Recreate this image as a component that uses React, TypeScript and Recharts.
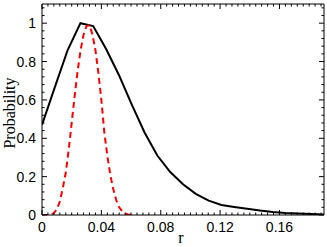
import { Line, LineChart, XAxis, YAxis } from 'recharts'

// sample positions (r) and probabilities
const solidR = [
  0, 0.0086, 0.0173, 0.0259, 0.0345, 0.0432, 0.0518, 0.0605, 0.0691, 0.0777, 0.0864, 0.095,
  0.1036, 0.1123, 0.1209, 0.1295, 0.1382, 0.1468, 0.1555, 0.1641, 0.1727, 0.1814, 0.19,
]
const solidP = [
  0.47, 0.665, 0.86, 1.0, 0.985, 0.865, 0.73, 0.575, 0.43, 0.31, 0.224, 0.16,
  0.11, 0.075, 0.052, 0.042, 0.032, 0.023, 0.016, 0.011, 0.008, 0.005, 0.003,
]

const dashedR = [
  0, 0.002, 0.004, 0.006, 0.008, 0.01, 0.012, 0.014, 0.016, 0.018, 0.02, 0.022, 0.024, 0.026,
  0.028, 0.03, 0.032, 0.034, 0.036, 0.038, 0.04, 0.042, 0.044, 0.046, 0.048, 0.05, 0.052,
  0.054, 0.056, 0.058, 0.06, 0.062,
]
const dashedP = [
  0, 0, 0, 0.002, 0.01, 0.03, 0.07, 0.14, 0.22, 0.34, 0.48, 0.62, 0.75, 0.86,
  0.94, 0.985, 0.99, 0.94, 0.86, 0.74, 0.6, 0.43, 0.31, 0.21, 0.135, 0.078, 0.04,
  0.02, 0.008, 0.003, 0.001, 0,
]

const xMajor = [0, 0.04, 0.08, 0.12, 0.16]
const xMinor = Array.from({ length: 48 }, (_, i) => i * 0.004)
const yMajor = [0, 0.2, 0.4, 0.6, 0.8, 1]
const yMinor = Array.from({ length: 28 }, (_, i) => i * 0.04)

const solidData = solidR.map((r, i) => ({ r, p: solidP[i] }))
const dashedData = dashedR.map((r, i) => ({ r, p: dashedP[i] }))

const isMajor = (v: number, majors: number[]) => majors.some((m) => Math.abs(m - v) < 1e-6)
const fmt = (v: number) => (v === 0 ? '0' : String(Math.round(v * 100) / 100))

const tickFont = { fontFamily: '"Liberation Sans", Arial, sans-serif', fontSize: 14, fill: '#000' }
const ink = '#000'

function BottomTick({ x, y, payload }: any) {
  const major = isMajor(payload.value, xMajor)
  return (
    <g>
      <line x1={x} x2={x} y1={y} y2={y - (major ? 5 : 2.5)} stroke={ink} />
      {major && (
        <text x={x} y={y + 17} textAnchor="middle" {...tickFont}>
          {fmt(payload.value)}
        </text>
      )}
    </g>
  )
}

function TopTick({ x, y, payload }: any) {
  const major = isMajor(payload.value, xMajor)
  return <line x1={x} x2={x} y1={y} y2={y + (major ? 5 : 2.5)} stroke={ink} />
}

function LeftTick({ x, y, payload }: any) {
  const major = isMajor(payload.value, yMajor)
  return (
    <g>
      <line x1={x} x2={x + (major ? 5 : 2.5)} y1={y} y2={y} stroke={ink} />
      {major && (
        <text x={x - 6} y={y} dy="0.36em" textAnchor="end" {...tickFont}>
          {fmt(payload.value)}
        </text>
      )}
    </g>
  )
}

function RightTick({ x, y, payload }: any) {
  const major = isMajor(payload.value, yMajor)
  return <line x1={x} x2={x - (major ? 5 : 2.5)} y1={y} y2={y} stroke={ink} />
}

const serif = { fontFamily: '"Liberation Serif", "Times New Roman", serif', fontSize: 16, fill: '#000' }

export default function App() {
  return (
    <div style={{ position: 'absolute', left: 0, top: 0, width: 327, height: 247, background: '#fff' }}>
      <LineChart width={327} height={247} margin={{ top: 2, right: 1, bottom: 0, left: 0 }}>
        <XAxis
          type="number"
          dataKey="r"
          domain={[0, 0.19]}
          ticks={xMinor}
          interval={0}
          allowDataOverflow
          height={32}
          tickSize={0}
          tickMargin={0}
          tickLine={false}
          axisLine={{ stroke: ink }}
          tick={BottomTick}
        />
        <XAxis
          xAxisId="top"
          orientation="top"
          type="number"
          dataKey="r"
          domain={[0, 0.19]}
          ticks={xMinor}
          interval={0}
          allowDataOverflow
          height={2}
          tickSize={0}
          tickMargin={0}
          tickLine={false}
          axisLine={{ stroke: ink }}
          tick={TopTick}
        />
        <YAxis
          type="number"
          domain={[0, 1.1]}
          ticks={yMinor}
          interval={0}
          allowDataOverflow
          width={42}
          tickSize={0}
          tickMargin={0}
          tickLine={false}
          axisLine={{ stroke: ink }}
          tick={LeftTick}
        />
        <YAxis
          yAxisId="right"
          orientation="right"
          type="number"
          domain={[0, 1.1]}
          ticks={yMinor}
          interval={0}
          allowDataOverflow
          width={2}
          tickSize={0}
          tickMargin={0}
          tickLine={false}
          axisLine={{ stroke: ink }}
          tick={RightTick}
        />
        {/* invisible copy so the top and right frame axes get drawn */}
        <Line
          xAxisId="top"
          yAxisId="right"
          data={solidData}
          dataKey="p"
          stroke="none"
          dot={false}
          activeDot={false}
          isAnimationActive={false}
        />
        <Line
          data={solidData}
          dataKey="p"
          type="linear"
          stroke="#000"
          strokeWidth={2}
          dot={false}
          isAnimationActive={false}
        />
        <Line
          data={dashedData}
          dataKey="p"
          type="linear"
          stroke="#ff0000"
          strokeWidth={2}
          strokeDasharray="6 4"
          dot={false}
          isAnimationActive={false}
        />
        <text x={9} y={113} transform="rotate(-90 9 113)" textAnchor="middle" dy="0.35em" {...serif}>
          Probability
        </text>
        <text x={181} y={243} textAnchor="middle" {...serif}>
          r
        </text>
      </LineChart>
    </div>
  )
}
